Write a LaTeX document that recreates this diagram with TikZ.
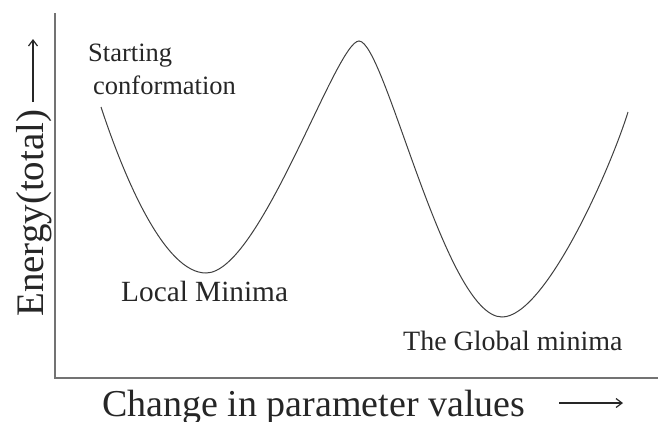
\documentclass[tikz,border=0pt]{standalone}
\usepackage{fontspec}
\setmainfont{Liberation Serif}
\usetikzlibrary{arrows.meta}
\begin{document}
\begin{tikzpicture}[x=1pt,y=-1pt,
  axisline/.style={draw=black!55,line width=1.4pt},
  curveline/.style={draw=black!75,line width=1pt},
  lbl/.style={inner sep=0pt,anchor=base west,text=black!85},
  dirarrow/.style={draw=black!85,line width=1.2pt,-{Straight Barb[length=6pt,width=9pt]}}]
\useasboundingbox (0,0) rectangle (658,421);
\clip (0,0) rectangle (658,421);
% axes
\coordinate (top) at (55,13);
\coordinate (origin) at (55,378);
\coordinate (right) at (658,378);
\draw[axisline] (top) -- (origin) -- (right);
% energy landscape
\coordinate (start) at (101,107);
\coordinate (localmin) at (206,273);
\coordinate (peak) at (359,41);
\coordinate (globalmin) at (502,317);
\coordinate (finish) at (628,112);
\draw[curveline] (start) .. controls (125,180) and (165,273) .. (localmin)
  .. controls (260,273) and (336,41) .. (peak)
  .. controls (385,41) and (445,317) .. (globalmin)
  .. controls (545,317) and (610,170) .. (finish);
% labels
\node[lbl,font=\fontsize{26.5}{30}\selectfont] (startA) at (88,61) {Starting};
\node[lbl,font=\fontsize{26.5}{30}\selectfont] (startB) at (93,94) {conformation};
\node[lbl,font=\fontsize{29.3}{32}\selectfont] (local) at (121,301) {Local Minima};
\node[lbl,font=\fontsize{28}{32}\selectfont] (global) at (403,350) {The Global minima};
\node[lbl,font=\fontsize{38}{42}\selectfont] (xlabel) at (102,416) {Change in parameter values};
\node[lbl,rotate=90,font=\fontsize{39}{42}\selectfont] (ylabel) at (43.5,317) {Energy(total)};
% direction arrows
\coordinate (xa) at (559,403);
\coordinate (xb) at (623,403);
\draw[dirarrow] (xa) -- (xb);
\coordinate (ya) at (33,102);
\coordinate (yb) at (33,39);
\draw[dirarrow] (ya) -- (yb);
\end{tikzpicture}
\end{document}
